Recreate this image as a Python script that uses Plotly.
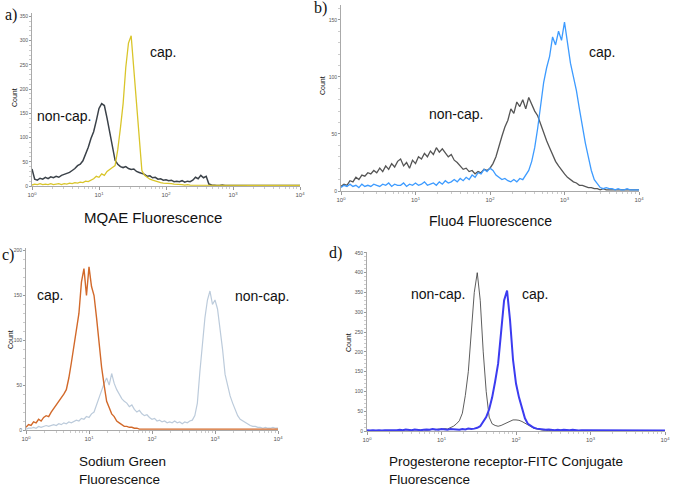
import numpy as np
import plotly.graph_objects as go

W, H = 685, 487

# histogram bins: log10 of fluorescence, 0.04 decade apart
log_bins = np.arange(101) * 0.04
fluor = 10 ** log_bins

# a) MQAE
mqae_noncap = [35, 14, 12, 16, 14, 18, 15, 19, 17, 20,
               18, 22, 24, 26, 28, 32, 36, 42, 45, 52,
               65, 80, 98, 112, 135, 160, 170, 166, 140, 108,
               78, 53, 45, 40, 38, 40, 36, 34, 35, 30,
               28, 26, 24, 20, 21, 17, 18, 14, 15, 12,
               13, 11, 12, 9, 10, 9, 11, 8, 10, 9,
               12, 18, 15, 22, 17, 20, 4, 2, 1, 1,
               1, 2, 1, 1, 1, 2, 1, 1, 1, 1,
               1, 1, 1, 2, 1, 1, 1, 1, 1, 1,
               1, 1, 1, 1, 1, 1, 1, 1, 1, 1,
               1]
mqae_cap = [2, 4, 3, 5, 3, 4, 3, 5, 3, 4,
            5, 3, 5, 4, 6, 5, 7, 6, 8, 7,
            10, 9, 12, 15, 20, 18, 25, 22, 30, 35,
            38, 42, 75, 120, 170, 245, 295, 310, 240, 165,
            85, 32, 22, 18, 14, 12, 10, 9, 7, 6,
            6, 5, 5, 4, 4, 3, 3, 2, 3, 2,
            2, 1, 2, 1, 1, 2, 1, 1, 1, 1,
            1, 1, 1, 1, 1, 1, 1, 1, 1, 1,
            1, 1, 1, 1, 1, 1, 1, 1, 1, 1,
            1, 1, 1, 1, 1, 1, 1, 1, 1, 1,
            1]

# b) Fluo4
fluo4_noncap = [4, 6, 5, 9, 8, 12, 10, 14, 13, 16,
                15, 18, 16, 20, 17, 22, 19, 24, 21, 26,
                28, 22, 25, 20, 27, 24, 30, 28, 33, 30,
                35, 32, 38, 34, 37, 33, 30, 32, 27, 25,
                22, 19, 20, 17, 18, 15, 17, 16, 19, 18,
                20, 24, 30, 40, 48, 56, 62, 72, 68, 78,
                74, 80, 72, 82, 76, 70, 66, 58, 52, 44,
                38, 32, 26, 22, 18, 15, 12, 10, 8, 7,
                5, 5, 4, 3, 3, 2, 2, 1, 2, 1,
                1, 1, 1, 1, 1, 1, 1, 1, 1, 1,
                1]
fluo4_cap = [3, 5, 4, 6, 4, 5, 3, 6, 4, 5,
             4, 6, 5, 4, 6, 5, 7, 4, 6, 5,
             5, 7, 4, 6, 5, 7, 5, 6, 8, 5,
             6, 7, 5, 8, 6, 9, 7, 8, 10, 8,
             11, 9, 12, 10, 14, 12, 16, 15, 19, 17,
             20, 18, 14, 12, 10, 11, 9, 8, 10, 8,
             11, 10, 14, 18, 26, 38, 55, 75, 95, 108,
             118, 135, 128, 140, 132, 148, 130, 112, 100, 88,
             72, 55, 42, 30, 18, 10, 6, 3, 2, 3,
             2, 2, 1, 2, 1, 1, 2, 1, 1, 1,
             1]

# c) Sodium Green
sodium_cap = [3, 6, 5, 9, 8, 12, 10, 14, 16, 15,
              20, 24, 28, 32, 35, 40, 45, 58, 75, 92,
              110, 130, 165, 180, 150, 182, 160, 150, 125, 95,
              70, 50, 32, 25, 18, 15, 10, 8, 6, 4,
              4, 3, 3, 2, 2, 1, 1, 1, 1, 1,
              1, 1, 1, 1, 1, 1, 1, 1, 1, 1,
              1, 1, 1, 1, 1, 1, 1, 1, 1, 1,
              1, 1, 1, 1, 1, 1, 1, 1, 1, 1,
              1, 1, 1, 1, 1, 1, 1, 1, 1, 1,
              1, 1, 1, 1, 1, 1, 1, 1, 1, 1,
              1]
sodium_noncap = [1, 2, 2, 3, 2, 4, 3, 4, 5, 4,
                 5, 6, 5, 7, 6, 8, 7, 9, 8, 10,
                 11, 10, 13, 12, 15, 14, 18, 20, 28, 38,
                 45, 52, 58, 50, 63, 52, 45, 40, 35, 32,
                 30, 26, 28, 23, 20, 22, 18, 16, 17, 14,
                 12, 13, 10, 11, 9, 10, 8, 9, 8, 10,
                 8, 9, 7, 9, 8, 10, 11, 16, 30, 65,
                 100, 125, 145, 155, 140, 145, 135, 115, 90, 62,
                 48, 38, 30, 22, 16, 12, 10, 8, 6, 5,
                 4, 4, 3, 3, 2, 3, 2, 2, 3, 2,
                 2]

# d) Progesterone receptor-FITC
pr_noncap = [1, 1, 1, 2, 1, 1, 2, 1, 1, 2,
             1, 2, 1, 3, 2, 1, 3, 2, 2, 3,
             2, 3, 4, 3, 5, 4, 6, 5, 8, 12,
             18, 26, 45, 90, 150, 250, 350, 400, 330, 200,
             100, 35, 18, 14, 12, 14, 18, 22, 26, 28,
             28, 27, 24, 20, 15, 10, 7, 5, 3, 2,
             2, 1, 2, 1, 1, 2, 1, 1, 1, 1,
             1, 1, 1, 1, 1, 1, 1, 1, 1, 1,
             1, 1, 1, 1, 1, 1, 1, 1, 1, 1,
             1, 1, 1, 1, 1, 1, 1, 1, 1, 1,
             1]
pr_cap = [2, 1, 2, 1, 2, 1, 2, 2, 1, 2,
          2, 3, 2, 4, 3, 2, 4, 3, 2, 3,
          4, 3, 5, 4, 3, 5, 4, 3, 5, 4,
          4, 3, 5, 4, 6, 5, 6, 8, 12, 22,
          35, 55, 85, 125, 170, 250, 330, 355, 280, 180,
          120, 85, 55, 32, 18, 12, 8, 6, 5, 4,
          3, 4, 3, 2, 3, 2, 3, 2, 2, 3,
          2, 1, 2, 2, 1, 2, 1, 1, 2, 1,
          1, 2, 1, 1, 1, 2, 1, 1, 1, 1,
          1, 1, 2, 1, 1, 1, 1, 1, 1, 1,
          1]

decades = [1, 10, 100, 1000, 10000]
decade_labels = ["10<sup>0</sup>", "10<sup>1</sup>", "10<sup>2</sup>",
                 "10<sup>3</sup>", "10<sup>4</sup>"]

# panel boxes in pixels: x left, x right, y of zero, y of top, y max, y step
panels = [
    dict(x0=32, x1=300, yb=186, yt=12.5, ymax=358, dy=50,
         series=[(mqae_noncap, "#3b4249", 1.5), (mqae_cap, "#d9c52a", 1.3)]),
    dict(x0=341, x1=639, yb=191, yt=5, ymax=163, dy=50,
         series=[(fluo4_noncap, "#555555", 1.3), (fluo4_cap, "#3d9bff", 1.3)]),
    dict(x0=26, x1=278, yb=430, yt=248, ymax=203, dy=50,
         series=[(sodium_noncap, "#bccbdb", 1.2), (sodium_cap, "#d2692a", 1.4)]),
    dict(x0=367, x1=665, yb=431, yt=251.7, ymax=453, dy=50,
         series=[(pr_noncap, "#333333", 0.8), (pr_cap, "#3b3bf0", 2.0)]),
]

fig = go.Figure()
layout = {}
for i, p in enumerate(panels):
    n = "" if i == 0 else str(i + 1)
    for vals, color, width in p["series"]:
        fig.add_trace(go.Scatter(x=fluor, y=vals, mode="lines",
                                 line=dict(color=color, width=width),
                                 xaxis="x" + n, yaxis="y" + n,
                                 showlegend=False, hoverinfo="skip"))
    layout["xaxis" + n] = dict(
        type="log", range=[0, 4], domain=[p["x0"] / W, p["x1"] / W],
        anchor="y" + n, tickvals=decades, ticktext=decade_labels,
        ticks="outside", ticklen=3, tickcolor="#999999",
        showline=True, linecolor="#aaaaaa", linewidth=1,
        showgrid=False, zeroline=False, automargin=False,
        tickfont=dict(family="Liberation Sans", size=6, color="#555555"),
        minor=dict(ticks="outside", ticklen=2, tickcolor="#cccccc", dtick="D1"))
    layout["yaxis" + n] = dict(
        range=[0, p["ymax"]], domain=[1 - p["yb"] / H, 1 - p["yt"] / H],
        anchor="x" + n, dtick=p["dy"], ticks="outside", ticklen=2,
        tickcolor="#999999", showline=True, linecolor="#aaaaaa", linewidth=1,
        showgrid=False, zeroline=False, automargin=False,
        tickfont=dict(family="Liberation Sans", size=5, color="#555555"),
        minor=dict(ticks="outside", ticklen=2, tickcolor="#cccccc", nticks=5))


def note(text, x, y, size=14, family="Liberation Sans", xanchor="center",
         yanchor="middle", angle=0, align="center"):
    return dict(text=text, x=x / W, y=1 - y / H, xref="paper", yref="paper",
                xanchor=xanchor, yanchor=yanchor, showarrow=False,
                textangle=angle, align=align,
                font=dict(family=family, size=size, color="#111111"))


annotations = [
    note("a)", 3, 15, size=16, family="Liberation Serif", xanchor="left"),
    note("b)", 312, 8, size=16, family="Liberation Serif", xanchor="left"),
    note("c)", 0, 255, size=16, family="Liberation Serif", xanchor="left"),
    note("d)", 327, 253, size=16, family="Liberation Serif", xanchor="left"),
    note("cap.", 163, 52),
    note("non-cap.", 64, 116),
    note("cap.", 602, 52),
    note("non-cap.", 456, 114),
    note("cap.", 50, 295),
    note("non-cap.", 262, 296),
    note("non-cap.", 438, 294),
    note("cap.", 535, 294),
    note("MQAE Fluorescence", 153, 217, size=15),
    note("Fluo4 Fluorescence", 491, 221, size=14),
    note("Sodium Green<br>Fluorescence", 77, 452, size=13.5, xanchor="left",
         yanchor="top", align="left"),
    note("Progesterone receptor-FITC Conjugate<br>Fluorescence", 387, 452,
         size=13.5, xanchor="left", yanchor="top", align="left"),
    note("Count", 15, 98, size=7, angle=-90),
    note("Count", 322, 86, size=7, angle=-90),
    note("Count", 10, 340, size=7, angle=-90),
    note("Count", 348, 342, size=7, angle=-90),
]

fig.update_layout(width=W, height=H, margin=dict(l=0, r=0, t=0, b=0),
                  paper_bgcolor="white", plot_bgcolor="white",
                  annotations=annotations, **layout)

# the page's default 8px body margin would push the figure off its 685x487 frame
fig.write_html("out.html", config={"displayModeBar": False},
               post_script="document.body.style.margin = '0';")
